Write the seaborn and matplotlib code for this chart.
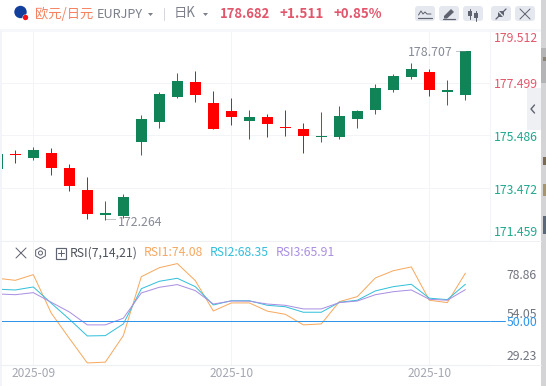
"""EUR/JPY daily candles with an RSI panel, in the style of a trading widget."""

import matplotlib

matplotlib.use("Agg")
import matplotlib.pyplot as plt
import numpy as np
import pandas as pd
import seaborn as sns
from matplotlib.patches import Circle, FancyBboxPatch, Polygon, Rectangle

opens = [174.20, 174.78, 174.62, 174.82, 174.24, 173.40, 172.44, 172.41, 175.25, 176.02, 176.97, 177.54, 176.73, 176.43,
         176.04, 176.20, 175.81, 175.74, 175.43, 175.44, 176.12, 176.46, 177.23, 177.73, 177.92, 177.17, 177.04]
closes = [174.78, 174.74, 174.93, 174.25, 173.56, 172.49, 172.50, 173.13, 176.12, 177.08, 177.58, 177.04, 175.75, 176.20,
          176.20, 175.93, 175.76, 175.48, 175.45, 176.23, 176.43, 177.31, 177.77, 178.04, 177.23, 177.20, 178.71]
highs = [174.85, 174.93, 175.05, 175.01, 174.39, 173.90, 172.97, 173.24, 176.27, 177.15, 177.88, 177.96, 177.19, 176.92,
         176.46, 176.31, 176.46, 175.97, 176.39, 176.62, 176.46, 177.46, 177.84, 178.27, 178.04, 177.61, 178.71]
lows = [174.13, 174.44, 174.55, 173.97, 173.36, 172.28, 172.26, 172.32, 174.74, 175.79, 176.94, 176.78, 175.72, 175.89,
        175.35, 175.44, 175.48, 174.82, 175.25, 175.35, 175.77, 176.31, 177.15, 177.65, 177.00, 176.66, 176.85]

rsi1 = [77.2, 75.9, 79.5, 55.1, 39.2, 23.6, 24.1, 40.9, 78.2, 83.9, 86.5, 75.7, 56.5, 61.6,
        61.6, 56.4, 54.4, 47.7, 48.3, 62.4, 65.6, 77.4, 82.0, 84.4, 63.3, 61.8, 80.4]
rsi2 = [70.3, 69.8, 71.7, 61.4, 51.3, 40.7, 40.9, 48.3, 70.6, 75.3, 77.2, 71.9, 60.3, 63.0,
        63.0, 60.1, 59.2, 55.7, 55.7, 62.0, 63.3, 69.2, 71.9, 73.4, 64.6, 63.7, 73.4]
rsi3 = [67.3, 66.8, 68.1, 62.0, 55.9, 47.7, 47.7, 51.9, 67.9, 71.5, 73.2, 69.4, 60.9, 62.8,
        62.7, 60.9, 60.1, 57.8, 57.8, 61.8, 62.8, 66.8, 68.7, 69.8, 63.9, 63.3, 70.0]

price_ticks = [179.512, 177.499, 175.486, 173.472, 171.459]
rsi_ticks = [78.86, 54.05, 29.23]
date_positions = [2, 13, 24]
date_labels = ["2025-09", "2025-10", "2025-10"]

UP = "#108357"
DOWN = "#ff0000"
GRID = "#f3f4f7"
RED_TEXT = "#e2566b"
GREEN_TEXT = "#1fa88e"
GRAY_TEXT = "#70747f"
FONT = ["Noto Sans CJK SC", "DejaVu Sans"]

W, H = 546, 386
AX_R = 490
MAIN_TOP, MAIN_BOT, RSI_BOT = 31, 241, 365


def px_axes(fig, left, top, right, bottom, **kwargs):
    """Add axes from pixel edges measured from the top left."""

    return fig.add_axes([left / W, 1 - bottom / H, (right - left) / W, (bottom - top) / H], **kwargs)


def style_panel(ax, yticks):
    """Grid, spines and no tick labels; labels are placed by hand."""

    ax.set_xlim(0.15, 27.37)
    ax.set_xticks(date_positions)
    ax.set_yticks(yticks)
    ax.grid(True, color=GRID, linewidth=1)
    ax.set_axisbelow(True)
    ax.tick_params(length=0, labelbottom=False, labelleft=False)
    ax.set_xlabel("")
    ax.set_ylabel("")
    for side in ["top", "left", "right"]:
        ax.spines[side].set_visible(False)
    ax.spines["bottom"].set_color("#eff0f4")


def draw_chrome(ov):
    """Header, toolbar buttons, right edge and other widget furniture."""

    ov.add_patch(Rectangle((0, 29), AX_R + 51, 2.5, color="#f6f7fa", lw=0))
    ov.add_patch(Rectangle((0, 31), 1.5, 355, color="#f2f4f9", lw=0))
    ov.add_patch(Rectangle((541, 0), 5, 386, color="#d4d4d6", lw=0))
    ov.add_patch(Rectangle((541, 48), 5, 35, color="#b4b4b6", lw=0))
    for y0, y1, col in [(57, 61, "#8a8478"), (157, 165, "#7a6a50"), (184, 196, "#a89468"), (216, 234, "#59687a")]:
        ov.add_patch(Rectangle((543, y0), 3, y1 - y0, color=col, lw=0))
    ov.add_patch(Rectangle((527, 88), 14, 42, color="#eef0f4", lw=0))
    ov.plot([534.5, 531, 534.5], [105, 109, 113], color="#5f6470", lw=1.4)

    ov.add_patch(Circle((20.5, 12), 6.2, color="#123f9c", lw=0))
    ov.add_patch(Circle((25.5, 17.5), 3.0, color="white", lw=0))
    ov.add_patch(Circle((25.5, 17.5), 2.7, color="#fa0f14", lw=0))

    ov.text(35, 13.5, "欧元/日元", color="#f5825f", fontsize=13.3, family=FONT, va="center")
    ov.text(97, 14.5, "EURJPY", color="#7c808b", fontsize=12.7, family=FONT, va="center")
    ov.add_patch(Polygon([[148, 13], [153, 13], [150.5, 16]], color="#7c808b", lw=0))
    ov.plot([164, 164], [8, 20], color="#d5d7dd", lw=1)
    ov.text(174, 13.5, "日K", color="#7c808b", fontsize=13.3, family=FONT, va="center")
    ov.add_patch(Polygon([[203, 13], [208, 13], [205.5, 16]], color="#7c808b", lw=0))
    ov.text(220, 13.5, "178.682", color=RED_TEXT, fontsize=13, fontweight="bold", family=FONT, va="center")
    ov.text(280, 13.5, "+1.511", color=RED_TEXT, fontsize=13.5, fontweight="bold", family=FONT, va="center")
    ov.text(333, 13.5, "+0.85%", color=RED_TEXT, fontsize=13.3, fontweight="bold", family=FONT, va="center")

    for x0 in [415, 439, 463, 491, 515]:
        ov.add_patch(FancyBboxPatch((x0 + 2, 8), 16, 11, boxstyle="round,pad=2,rounding_size=3",
                                    facecolor="#e6e8ef", edgecolor="none"))
    icon = "#5f636f"
    ov.plot([418.5, 421, 423, 425, 427, 431], [15, 11, 14, 12, 14, 14], color=icon, lw=1)
    ov.plot([418, 432], [18, 18], color=icon, lw=1.2)
    ov.add_patch(Polygon([[444, 16], [451, 9], [454, 12], [447, 18.5], [444, 18.5]], color=icon, lw=0))
    ov.plot([443, 455], [19, 19], color=icon, lw=1.2)
    for xc, y0, y1, b0, b1 in [(470, 9, 19, 11, 16), (476, 11, 21, 13, 18)]:
        ov.plot([xc, xc], [y0, y1], color=icon, lw=1)
        ov.add_patch(Rectangle((xc - 2, b0), 4, b1 - b0, color=icon, lw=0))
    ov.plot([496, 500], [19, 15], color=icon, lw=1.3)
    ov.plot([502, 506], [13, 9], color=icon, lw=1.3)
    ov.add_patch(Polygon([[498, 12], [503, 17], [498, 17]], color=icon, lw=0))
    ov.add_patch(Polygon([[499, 11], [504, 11], [504, 16]], color=icon, lw=0))
    ov.plot([520, 530], [9, 19], color=icon, lw=1)
    ov.plot([520, 530], [19, 9], color=icon, lw=1)

    # indicator header
    ov.plot([16, 26], [248, 258], color=icon, lw=1)
    ov.plot([16, 26], [258, 248], color=icon, lw=1)
    angles = np.deg2rad(np.arange(30, 390, 60))
    ov.add_patch(Polygon(np.c_[40.5 + 5.6 * np.cos(angles), 253 + 5.6 * np.sin(angles)],
                         fill=False, edgecolor=icon, lw=1))
    ov.add_patch(Circle((40.5, 253), 2, fill=False, edgecolor=icon, lw=1))
    ov.add_patch(Rectangle((55.5, 248), 10.5, 10.5, fill=False, edgecolor=icon, lw=1.2))
    ov.plot([57.8, 63.8], [253.2, 253.2], color=icon, lw=1)
    ov.plot([60.8, 60.8], [250.2, 256.2], color=icon, lw=1)
    ov.text(69.5, 253, "RSI(7,14,21)", color="#4e525c", fontsize=12.2, family=FONT, va="center")
    ov.text(143.5, 253, "RSI1:74.08", color="#f6a860", fontsize=12.2, family=FONT, va="center")
    ov.text(210, 253, "RSI2:68.35", color="#33bfdb", fontsize=12.2, family=FONT, va="center")
    ov.text(276, 253, "RSI3:65.91", color="#a98fe2", fontsize=12.2, family=FONT, va="center")

    # high and low callouts
    ov.text(408, 53, "178.707", color="#868a96", fontsize=12.3, family=FONT, va="center")
    ov.plot([456, 466], [51, 51], color="#868a96", lw=1, ls=(0, (1, 1)))
    ov.text(118, 222.5, "172.264", color="#868a96", fontsize=12.3, family=FONT, va="center")
    ov.plot([106, 115], [219, 219], color="#868a96", lw=1, ls=(0, (1, 1)))

    # axis labels; the top and bottom ones are nudged inside the panel as in the widget
    for tick, y, col in zip(price_ticks, [38, 85, 137.5, 190.5, 232], [RED_TEXT, RED_TEXT, GREEN_TEXT, GREEN_TEXT, GREEN_TEXT]):
        ov.text(538, y, f"{tick:.3f}", color=col, fontsize=12.2, family=FONT, ha="right", va="center")
    for tick, y in zip(rsi_ticks, [275.5, 314.5, 356]):
        ov.text(537, y, f"{tick:.2f}", color=GRAY_TEXT, fontsize=12.2, family=FONT, ha="right", va="center")
    ov.text(537, 322, "50.00", color="#2f95ea", fontsize=12.2, family=FONT, ha="right", va="center")
    for pos, label in zip(date_positions, date_labels):
        ov.text(-2.7 + 18 * pos, 373.5, label, color="#a4a7b0", fontsize=11.9, family=FONT, ha="center", va="center")


def main():
    sns.set_theme(style="white")
    plt.rcParams["font.family"] = FONT

    candles = pd.DataFrame({"open": opens, "close": closes, "high": highs, "low": lows})
    candles["day"] = np.arange(len(candles))
    candles["color"] = np.where(candles["close"] >= candles["open"], UP, DOWN)

    rsi = pd.DataFrame({"RSI1": rsi1, "RSI2": rsi2, "RSI3": rsi3})
    rsi["day"] = np.arange(len(rsi))
    rsi_long = rsi.melt(id_vars="day", var_name="series", value_name="value")

    fig = plt.figure(figsize=(W / 72, H / 72), dpi=72, facecolor="white")

    ax = px_axes(fig, 0, MAIN_TOP, AX_R, MAIN_BOT)
    ax.vlines(candles["day"], candles["low"], candles["high"], colors=candles["color"], linewidth=1)
    heights = (candles["close"] - candles["open"]).abs().clip(lower=0.05)
    ax.bar(candles["day"], heights, bottom=candles[["open", "close"]].min(axis=1), width=11 / 18,
           color=candles["color"], linewidth=0)
    ax.set_ylim(171.44, 179.49)
    style_panel(ax, price_ticks[1:4])

    ax2 = px_axes(fig, 0, MAIN_BOT, AX_R, RSI_BOT)
    sns.lineplot(data=rsi_long, x="day", y="value", hue="series", ax=ax2, legend=False, linewidth=1,
                 palette={"RSI1": "#f7a95f", "RSI2": "#33c0da", "RSI3": "#a98fe2"},
                 hue_order=["RSI1", "RSI2", "RSI3"], errorbar=None)
    ax2.axhline(50, color="#2f95ea", linewidth=1)
    ax2.set_ylim(22.3, 100.8)
    style_panel(ax2, [])

    # the price scale column has its own left border, running past the line at 50
    ov = px_axes(fig, 0, 0, W, H)
    ov.set_xlim(0, W)
    ov.set_ylim(H, 0)
    ov.axis("off")
    ov.patch.set_alpha(0)
    ov.plot([AX_R, AX_R], [MAIN_TOP, MAIN_BOT], color=GRID, lw=1)
    ov.plot([0, 541], [MAIN_BOT, MAIN_BOT], color="#eff0f4", lw=1)
    ov.plot([0, 541], [RSI_BOT, RSI_BOT], color="#eff0f4", lw=1)
    ov.plot([AX_R, 505], [321.3, 321.3], color="#2f95ea", lw=1)
    draw_chrome(ov)

    fig.savefig("out.png", dpi=72)
    plt.close(fig)


if __name__ == "__main__":
    main()
